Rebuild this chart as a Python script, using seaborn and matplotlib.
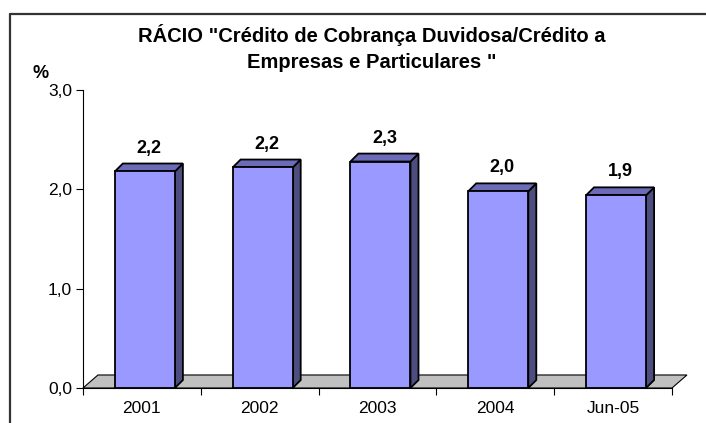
import matplotlib
matplotlib.use("Agg")
import matplotlib.pyplot as plt
import seaborn as sns
from matplotlib.patches import Polygon
from matplotlib.lines import Line2D

# data
categories = ["2001", "2002", "2003", "2004", "Jun-05"]
ratio = [2.18, 2.22, 2.28, 1.98, 1.94]
yticks = [0.0, 1.0, 2.0, 3.0]

sns.set_style("white")
plt.rcParams["font.family"] = ["Liberation Sans", "DejaVu Sans"]
plt.rcParams["text.color"] = "black"
plt.rcParams["xtick.labelcolor"] = "black"
plt.rcParams["ytick.labelcolor"] = "black"

fig = plt.figure(figsize=(7.06, 4.23), dpi=100)
ax = fig.add_axes([83 / 706, 1 - 388 / 423, (672 - 83) / 706, (388 - 90) / 423])

# fake 3D depth offsets (data units)
fdx, fdy = 0.127, 0.131   # floor
bdx, bdy = 0.068, 0.08    # bars

# floor
floor = Polygon([(-0.5, 0), (4.5, 0), (4.5 + fdx, fdy), (-0.5 + fdx, fdy)],
                closed=True, facecolor="#C0C0C0", edgecolor="black",
                linewidth=0.8, clip_on=False, zorder=1)
ax.add_patch(floor)

sns.barplot(x=categories, y=ratio, width=0.51, color="#9999FF",
            saturation=1, edgecolor="black", linewidth=1.3, ax=ax, zorder=3)

bars = [p for p in ax.patches if p is not floor]
for p, v in zip(bars, ratio):
    p.set_x(p.get_x() + 0.025)  # bars sit slightly behind the front edge
    x0 = p.get_x()
    w = p.get_width()
    h = p.get_height()
    x1 = x0 + w
    side = Polygon([(x1, 0), (x1 + bdx, bdy), (x1 + bdx, h + bdy), (x1, h)],
                   closed=True, facecolor="#4D4D80", edgecolor="black",
                   linewidth=1.3, zorder=2)
    top = Polygon([(x0, h), (x0 + bdx, h + bdy), (x1 + bdx, h + bdy), (x1, h)],
                  closed=True, facecolor="#6B6BB8", edgecolor="black",
                  linewidth=1.3, zorder=2)
    ax.add_patch(side)
    ax.add_patch(top)
    ax.text(x0 + w / 2 + bdx / 2, h + 0.15, f"{v:.1f}".replace(".", ","),
            ha="center", va="bottom", fontsize=13, fontweight="bold")

ax.set_xlim(-0.5, 4.5)
ax.set_ylim(0, 3)
ax.set_yticks(yticks)
ax.set_yticklabels([f"{t:.1f}".replace(".", ",") for t in yticks], fontsize=12.5)
ax.set_xticks(range(len(categories)))
ax.set_xticklabels(categories, fontsize=12.5)
ax.set_xticks([i - 0.5 for i in range(len(categories) + 1)], minor=True)
ax.tick_params(axis="x", which="major", length=0, pad=9)
ax.tick_params(axis="x", which="minor", length=5, width=0.8, color="black", direction="out", bottom=True)
ax.tick_params(axis="y", length=5, width=0.8, color="black", direction="out", left=True, pad=3)
ax.set_xlabel("")
ax.set_ylabel("")
for s in ["top", "right"]:
    ax.spines[s].set_visible(False)
for s in ["left", "bottom"]:
    ax.spines[s].set_color("black")
    ax.spines[s].set_linewidth(0.8)
    ax.spines[s].set_zorder(4)

fig.text(372 / 706, 1 - 35 / 423, 'RÁCIO "Crédito de Cobrança Duvidosa/Crédito a',
         ha="center", va="center", fontsize=14.5, fontweight="bold")
fig.text(372 / 706, 1 - 62 / 423, 'Empresas e Particulares "',
         ha="center", va="center", fontsize=14.5, fontweight="bold")
fig.text(41 / 706, 1 - 73 / 423, "%", ha="center", va="center",
         fontsize=13, fontweight="bold")

# chart area border (top and left edges visible)
fig.add_artist(Line2D([10 / 706, 1], [1 - 14.5 / 423] * 2, color="#333333", lw=1.6))
fig.add_artist(Line2D([10 / 706] * 2, [0, 1 - 14.5 / 423], color="#333333", lw=1.6))

fig.savefig("out.png", dpi=100)
